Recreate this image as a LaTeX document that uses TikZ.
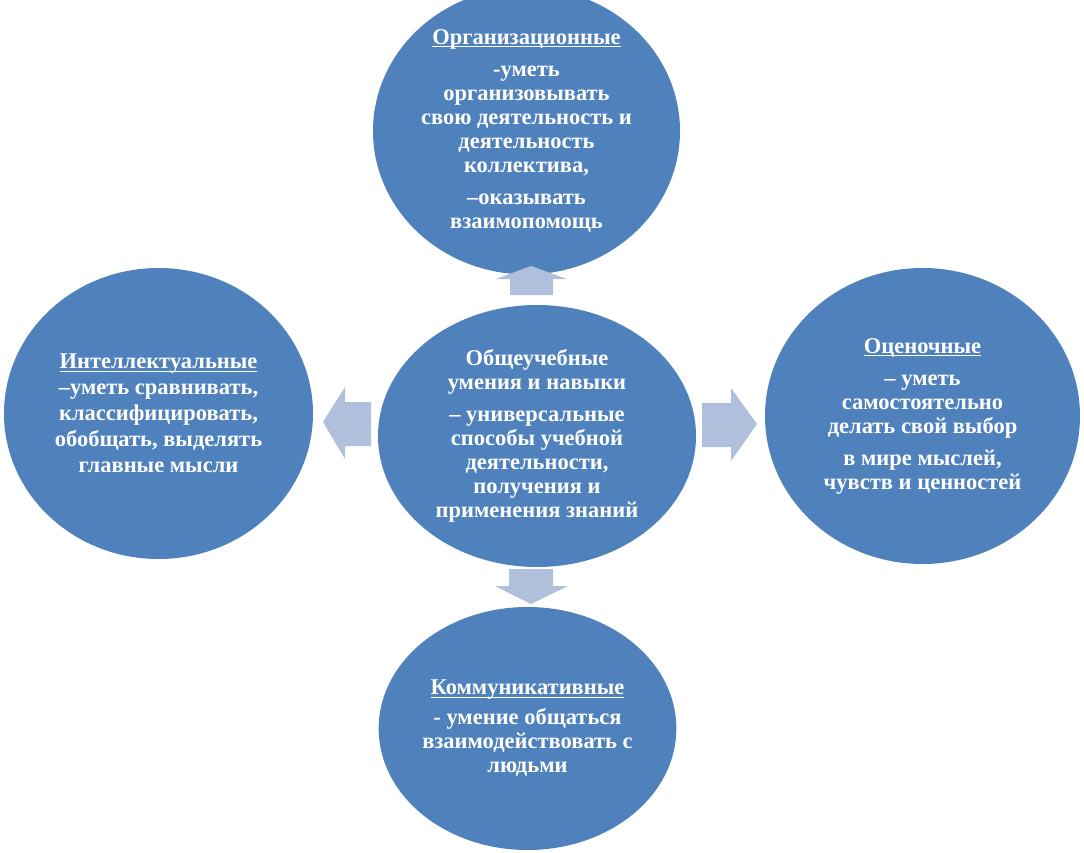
\documentclass[tikz,border=0pt]{standalone}
\usepackage{fontspec}
\setmainfont{Liberation Serif}
\usetikzlibrary{shapes.geometric}

\definecolor{ovalblue}{HTML}{4F81BD}
\definecolor{arrowblue}{HTML}{AFBFDC}
\newcommand\ulword[1]{\setbox0\hbox{#1}\rlap{\rule[-3pt]{\wd0}{1.2pt}}\box0}

\begin{document}
\begin{tikzpicture}[x=1pt,y=-1pt,
  every node/.style={ellipse,fill=ovalblue,text=white,align=center,inner sep=0pt,
    font=\bfseries\fontsize{22.5}{24}\selectfont},
  blockarrow/.style={fill=arrowblue}]
  \useasboundingbox (0,0) rectangle (1084,853);

  \node[minimum width=307pt,minimum height=258pt] (org) at (526.5,131)
    {\ulword{Организационные}\\[8pt] -уметь\\ организовывать\\ свою деятельность и\\ деятельность\\ коллектива,\\[8pt] –оказывать\\ взаимопомощь};
  \node[minimum width=318pt,minimum height=262pt] (obsh) at (537,436)
    {Общеучебные\\ умения и навыки\\[8pt] – универсальные\\ способы учебной\\ деятельности,\\ получения и\\ применения знаний};
  \node[minimum width=309pt,minimum height=291pt,
    font=\bfseries\fontsize{22.5}{26}\selectfont] (intel) at (158.5,413.5)
    {\ulword{Интеллектуальные}\\ –уметь сравнивать,\\ классифицировать,\\ обобщать, выделять\\ главные мысли};
  \node[minimum width=315pt,minimum height=296pt] (ocen) at (922.5,416)
    {\ulword{Оценочные}\\[8pt] – уметь\\ самостоятельно\\ делать свой выбор\\[8pt] в мире мыслей,\\ чувств и ценностей};
  \node[minimum width=295pt,minimum height=243pt] (komm) at (527.5,728.5)
    {\ulword{Коммуникативные}\\[6pt] - умение общаться\\ взаимодействовать с\\ людьми};

  % arrows from the centre
  \fill[blockarrow] (510,295) -- (510,279) -- (496,279) -- (531,266) -- (567,279) -- (553,279) -- (553,295) -- cycle;
  \fill[blockarrow] (509,569) -- (509,586) -- (495,586) -- (531,604) -- (568,586) -- (553,586) -- (553,569) -- cycle;
  \fill[blockarrow] (371,402) -- (345,402) -- (345,387) -- (323,422) -- (345,459) -- (345,446) -- (371,446) -- cycle;
  \fill[blockarrow] (702,403) -- (731,403) -- (731,388) -- (757,424) -- (731,461) -- (731,447) -- (702,447) -- cycle;
\end{tikzpicture}
\end{document}
